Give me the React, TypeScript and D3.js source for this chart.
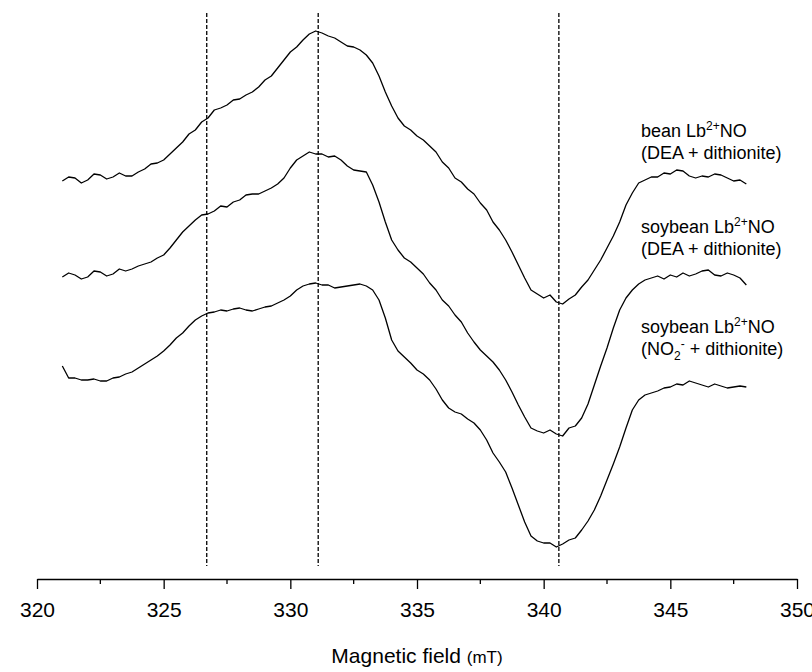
import React, { useEffect, useRef } from 'react'
import * as d3 from 'd3'

// magnetic field sampling grid (mT), every 0.25 mT from 321 to 348
const field = d3.range(109).map((i) => 321 + i * 0.25)

// EPR signal, arbitrary units (traces already offset vertically)
const beanDEA = [
  419, 423, 422, 417, 420, 426, 425, 421, 423, 427, 424, 424, 428, 431, 436, 437,
  440, 446, 452, 458, 466, 470, 478, 482, 490, 492, 495, 500, 501, 505, 508, 513,
  520, 524, 532, 540, 548, 553, 560, 566, 569, 567, 564, 562, 558, 554, 553, 550,
  545, 537, 524, 508, 494, 482, 474, 470, 464, 460, 454, 448, 438, 432, 422, 418,
  411, 406, 397, 390, 378, 370, 360, 348, 335, 322, 310, 306, 302, 305, 298, 296,
  301, 305, 313, 320, 330, 340, 352, 364, 378, 395, 407, 417, 420, 423, 423, 427,
  426, 430, 429, 424, 422, 424, 423, 426, 425, 422, 419, 420, 416,
]
const soyDEA = [
  323, 327, 325, 321, 323, 329, 328, 324, 326, 331, 329, 331, 334, 336, 338, 342,
  345, 352, 360, 368, 374, 380, 385, 386, 389, 394, 393, 398, 400, 405, 406, 406,
  409, 412, 416, 422, 432, 440, 444, 448, 446, 446, 443, 444, 440, 434, 430, 429,
  428, 415, 398, 378, 360, 350, 342, 338, 332, 326, 317, 310, 300, 294, 285, 278,
  267, 258, 250, 244, 238, 230, 220, 208, 195, 183, 172, 169, 167, 170, 166, 164,
  172, 174, 182, 196, 215, 234, 252, 272, 290, 302, 310, 316, 320, 322, 324, 321,
  325, 323, 327, 324, 326, 329, 330, 325, 324, 327, 325, 322, 315,
]
const soyNitrite = [
  234, 222, 222, 220, 220, 221, 219, 219, 222, 223, 226, 228, 232, 236, 240, 244,
  249, 255, 262, 267, 274, 280, 284, 287, 288, 290, 289, 291, 292, 290, 289, 291,
  293, 294, 297, 300, 304, 310, 314, 316, 317, 315, 315, 312, 313, 314, 315, 316,
  314, 310, 300, 282, 260, 249, 243, 237, 230, 226, 220, 211, 200, 192, 188, 186,
  181, 177, 170, 160, 147, 138, 128, 112, 95, 78, 64, 59, 57, 57, 53, 56,
  60, 62, 70, 79, 90, 104, 120, 136, 153, 172, 190, 200, 205, 207, 209, 212,
  213, 216, 215, 219, 217, 215, 213, 216, 214, 212, 213, 214, 213,
]

const series = [beanDEA, soyDEA, soyNitrite]

const majorTicks = [320, 325, 330, 335, 340, 345, 350]
const minorTicks = [322.5, 327.5, 332.5, 337.5, 342.5, 347.5]
const markers = [326.7, 331.1, 340.6]

const labelNames = ['bean', 'soybean', 'soybean']
const labelConditions = ['DEA', 'DEA', 'NO2-']
const labelLevels = [463, 367, 267]

const font = 'Arial, "Liberation Sans", Helvetica, sans-serif'

const App = () => {
  const axisRef = useRef(null)

  const width = 812
  const height = 672
  const x = d3.scaleLinear().domain([320, 350]).range([37, 797])
  const y = d3.scaleLinear().domain([0, 600]).range([600, 0])
  const axisY = 579

  const line = d3
    .line<number>()
    .x((d, i) => x(field[i]))
    .y((d) => y(d))

  useEffect(() => {
    const g = d3.select(axisRef.current)
    g.selectAll('*').remove()
    const major = d3
      .axisBottom(x)
      .tickValues(majorTicks)
      .tickSize(10)
      .tickSizeOuter(0)
      .tickPadding(13)
      .tickFormat(d3.format('d'))
    g.call(major)
    g.selectAll('text')
      .attr('font-size', 21)
      .attr('font-family', font)
      .attr('fill', '#000')
    g.selectAll('line').attr('stroke-width', 1.3)
    g.select('.domain').attr('stroke-width', 1.3)

    const minor = g.append('g')
    minor
      .selectAll('line')
      .data(minorTicks)
      .join('line')
      .attr('x1', (d) => x(d))
      .attr('x2', (d) => x(d))
      .attr('y1', 0)
      .attr('y2', 5)
      .attr('stroke', '#000')
      .attr('stroke-width', 1.3)
  }, [])

  return (
    <svg
      width={width}
      height={height}
      style={{ position: 'absolute', left: 0, top: 0, background: '#fff' }}
    >
      {markers.map((m) => (
        <line
          key={m}
          x1={x(m)}
          x2={x(m)}
          y1={y(587)}
          y2={y(34)}
          stroke="#000"
          strokeWidth={1.3}
          strokeDasharray="4,2"
        />
      ))}

      {series.map((s, i) => (
        <path
          key={i}
          d={line(s) || ''}
          fill="none"
          stroke="#000"
          strokeWidth={1.3}
          strokeLinejoin="round"
        />
      ))}

      {labelNames.map((name, i) => (
        <text
          key={i}
          x={641}
          y={y(labelLevels[i])}
          fontFamily={font}
          fontSize={18}
          fill="#000"
        >
          <tspan>{name} Lb</tspan>
          <tspan fontSize={12} dy={-7}>2+</tspan>
          <tspan dy={7}>NO</tspan>
          {labelConditions[i] === 'NO2-' ? (
            <>
              <tspan x={641} dy={22}>(NO</tspan>
              <tspan fontSize={12} dy={5}>2</tspan>
              <tspan fontSize={12} dy={-12}>-</tspan>
              <tspan dy={7}> + dithionite)</tspan>
            </>
          ) : (
            <tspan x={641} dy={22}>(DEA + dithionite)</tspan>
          )}
        </text>
      ))}

      <g ref={axisRef} transform={`translate(0,${axisY})`} />

      <text
        x={(x(320) + x(350)) / 2}
        y={663}
        textAnchor="middle"
        fontFamily={font}
        fontSize={21}
        fill="#000"
      >
        Magnetic field <tspan fontSize={17}>(mT)</tspan>
      </text>
    </svg>
  )
}

export default App
